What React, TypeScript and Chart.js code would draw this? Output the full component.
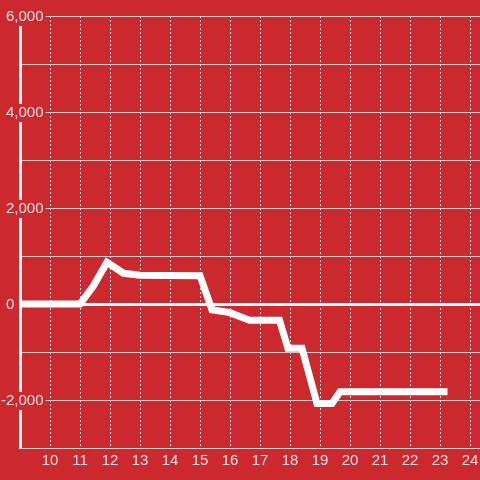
import React, { useEffect, useRef } from "react";
import { Chart, registerables } from "chart.js";

Chart.register(...registerables);

// ---- data ----
const hours = [9, 11, 11.45, 11.9, 12.45, 13, 15, 15.4, 16, 16.65, 17.65, 17.93, 18.4, 18.9, 19.4, 19.67, 23.25];
const values = [0, 0, 380, 870, 640, 600, 590, -120, -180, -340, -340, -920, -920, -2075, -2075, -1830, -1830];
const xTickLabels = [10, 11, 12, 13, 14, 15, 16, 17, 18, 19, 20, 21, 22, 23, 24];
const yTickLabels = [6000, 4000, 2000, 0, -2000];

const RED = "rgb(204,41,46)";
const TEXT = "rgba(255,255,255,0.85)";
const FONT = { family: "'Liberation Sans', Arial, sans-serif", size: 15 };

function fmt(v: number): string {
  if (v === 0) return "0       ";
  return v.toLocaleString("en-US");
}

export default function App() {
  const ref = useRef<HTMLCanvasElement | null>(null);

  useEffect(() => {
    if (!ref.current) return;
    const chart = new Chart(ref.current, {
      type: "line",
      data: {
        datasets: [
          {
            data: hours.map((h, i) => ({ x: h, y: values[i] })),
            borderColor: "#ffffff",
            borderWidth: 7,
            pointRadius: 0,
            tension: 0,
            fill: false,
            borderJoinStyle: "miter",
            borderCapStyle: "butt",
          },
        ],
      },
      options: {
        animation: false,
        responsive: false,
        layout: { padding: { top: 16, left: 0, right: 0, bottom: 0 } },
        plugins: { legend: { display: false }, tooltip: { enabled: false } },
        scales: {
          x: {
            type: "linear",
            min: 9,
            max: 25,
            afterFit: (s: any) => {
              s.height = 32;
              s.paddingLeft = 0;
              s.paddingRight = 0;
            },
            ticks: {
              stepSize: 1,
              autoSkip: false,
              maxRotation: 0,
              padding: 4,
              color: TEXT,
              font: FONT,
              callback: (v: any) => (xTickLabels.includes(Number(v)) ? String(v) : ""),
            },
            grid: { color: "rgba(255,255,255,0.85)", lineWidth: 1, drawTicks: false },
            border: { display: true, color: "#d0d0d0", width: 1, dash: [2, 2] },
          },
          y: {
            type: "linear",
            min: -3000,
            max: 6000,
            afterFit: (s: any) => {
              s.width = 20;
              s.paddingTop = 0;
              s.paddingBottom = 0;
            },
            ticks: {
              stepSize: 1000,
              mirror: true,
              crossAlign: "far",
              padding: -19,
              labelOffset: 1,
              color: TEXT,
              font: FONT,
              callback: (v: any) => (yTickLabels.includes(Number(v)) ? fmt(Number(v)) : ""),
              showLabelBackdrop: (ctx: any) =>
                !!ctx.tick && ctx.tick.value !== 0 && yTickLabels.includes(ctx.tick.value),
              backdropColor: RED,
              backdropPadding: { top: 0, bottom: 0, left: 2, right: 2 },
            } as any,
            grid: {
              drawTicks: false,
              color: (ctx: any) => (ctx.tick && ctx.tick.value === 0 ? "#ffffff" : "#cccccc"),
              lineWidth: (ctx: any) => (ctx.tick && ctx.tick.value === 0 ? 3 : 1),
            },
            border: { display: true, color: "#f4f4f4", width: 3 },
          },
        },
      } as any,
    });
    return () => chart.destroy();
  }, []);

  return (
    <div
      style={{
        position: "fixed",
        left: 0,
        top: 0,
        width: 480,
        height: 480,
        overflow: "hidden",
        background: RED,
      }}
    >
      <canvas ref={ref} width={500} height={480} style={{ display: "block", width: 500, height: 480 }} />
    </div>
  );
}
